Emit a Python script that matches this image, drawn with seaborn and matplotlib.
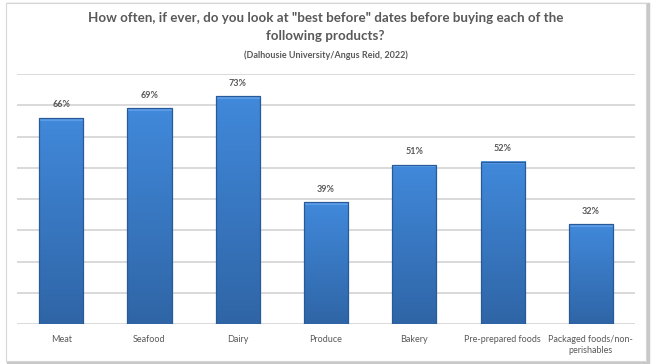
import matplotlib
matplotlib.use("Agg")
import matplotlib.pyplot as plt
import numpy as np
import pandas as pd
import seaborn as sns
from matplotlib.patches import Rectangle

categories = ["Meat", "Seafood", "Dairy", "Produce", "Bakery",
              "Pre-prepared foods", "Packaged foods/non-\nperishables"]
values = [66, 69, 73, 39, 51, 52, 32]
yticks = [0, 10, 20, 30, 40, 50, 60, 70, 80]

title = 'How often, if ever, do you look at "best before" dates before buying each of the\nfollowing products?'
subtitle = "(Dalhousie University/Angus Reid, 2022)"

sns.set_style("white")
plt.rcParams["font.family"] = ["Lato", "DejaVu Sans"]

df = pd.DataFrame({"category": categories, "value": values})

fig = plt.figure(figsize=(6.51, 3.64), dpi=100)

# chart frame with soft shadow (drawn behind the axes)
fig.patches.append(Rectangle((8 / 651, 1 - 363 / 364), 640 / 651, 359 / 364,
                             transform=fig.transFigure, fill=False,
                             edgecolor="#C8C8C8", linewidth=2.5, zorder=-2))
fig.patches.append(Rectangle((6 / 651, 1 - 361 / 364), 640 / 651, 358 / 364,
                             transform=fig.transFigure, fill=True, facecolor="white",
                             edgecolor="#D6D6D6", linewidth=0.8, zorder=-1))

ax = fig.add_axes([17 / 651, 1 - 324 / 364, 618 / 651, 250 / 364])
ax.patch.set_alpha(0)

sns.barplot(data=df, x="category", y="value", color="#3B7DD0", width=0.5,
            linewidth=0, ax=ax, zorder=3)

# vertical gradient on each bar, lighter at the top, with a dark outline
grad = np.linspace(0, 1, 256).reshape(-1, 1)
cmap = matplotlib.colors.LinearSegmentedColormap.from_list("bar", ["#2F65A6", "#4189DB"])
for p in list(ax.patches):
    x0, y0, w, h = p.get_x(), p.get_y(), p.get_width(), p.get_height()
    im = ax.imshow(grad, extent=(x0, x0 + w, y0, y0 + h), origin="lower",
                   cmap=cmap, aspect="auto", zorder=3.5)
    im.set_clip_path(p)
    ax.add_patch(Rectangle((x0, y0 + h - 0.9), w, 0.9, color="#5D9DE8", zorder=4, lw=0))
    ax.add_patch(Rectangle((x0, y0), w, h, fill=False, edgecolor="#285A99",
                           lw=0.9, zorder=5))

ax.set_xlim(-0.5, len(categories) - 0.5)
ax.set_ylim(0, 80)
ax.set_yticks(yticks)
ax.set_yticklabels([])
ax.tick_params(axis="y", length=0)
ax.tick_params(axis="x", length=0, pad=8, labelsize=6.5, labelcolor="#595959")
ax.yaxis.grid(True, color="#D9D9D9", linewidth=1.4, zorder=0)
ax.set_axisbelow(True)
for s in ax.spines.values():
    s.set_visible(False)
ax.set_xlabel("")
ax.set_ylabel("")

for i, v in enumerate(values):
    ax.annotate(f"{v}%", (i, v), xytext=(0, 6), textcoords="offset points",
                ha="center", va="bottom", fontsize=6.5, fontweight="bold", color="#595959")

fig.text(0.5, 1 - 27 / 364, title, ha="center", va="center", fontsize=9.6,
         fontweight="bold", color="#595959", linespacing=1.55)
fig.text(0.5, 1 - 55 / 364, subtitle, ha="center", va="center", fontsize=6.5,
         fontweight="bold", color="#595959")

fig.savefig("out.png", dpi=100)
